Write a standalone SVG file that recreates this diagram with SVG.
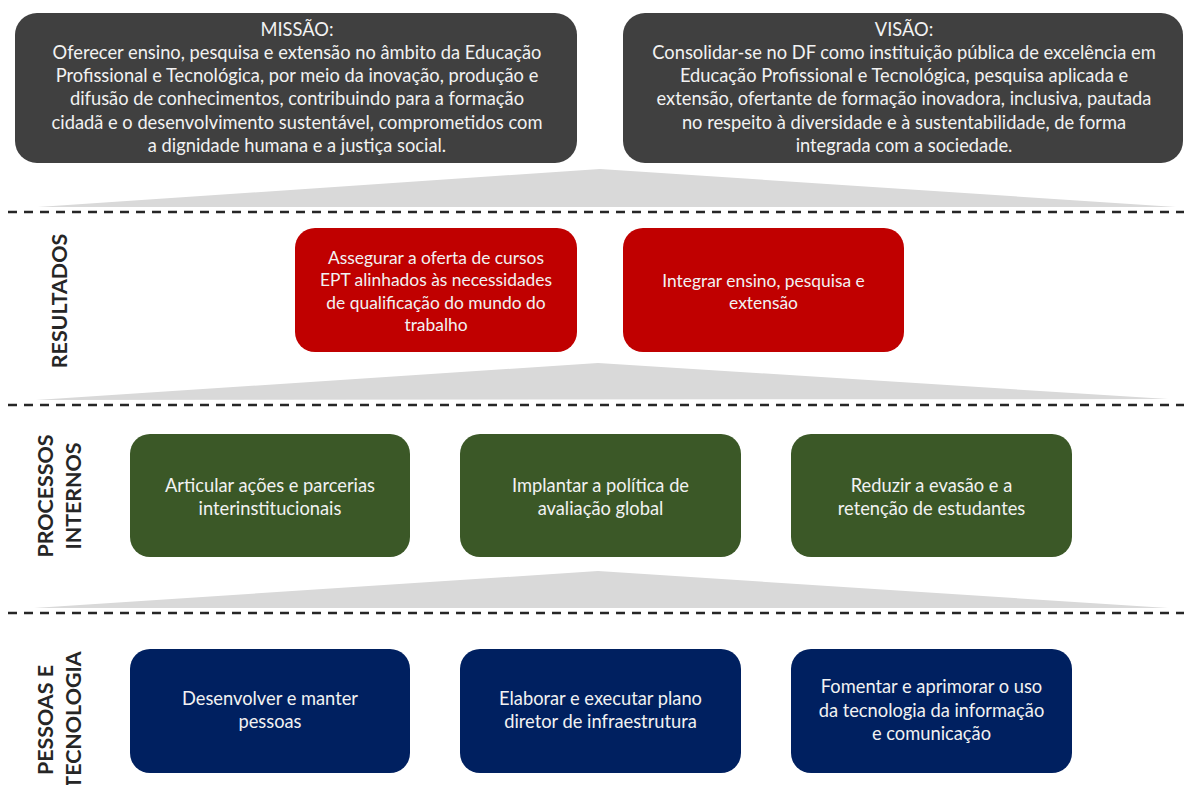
<svg xmlns="http://www.w3.org/2000/svg" width="1184" height="785" viewBox="0 0 1184 785">
<style>
.box-dark{fill:#404040}
.box-red{fill:#C00000}
.box-green{fill:#3B5827}
.box-blue{fill:#002060}
.t{font-family:Lato,"Liberation Sans",sans-serif;font-size:18.3px;fill:#F2F2F2;text-anchor:middle}
.tr{font-size:17.4px}
.side{font-family:Lato,"Liberation Sans",sans-serif;font-size:21.4px;font-weight:bold;fill:#262626;text-anchor:middle}
.tri{fill:#D9D9D9}
.dash{stroke:#262626;stroke-width:2.3;stroke-dasharray:9 7;fill:none}
</style>
<rect width="1184" height="785" fill="#FFFFFF"/>
<g id="layers">
  <polygon class="tri" points="38,207 600,169 1176,207"/>
  <polygon class="tri" points="36,400 598,363 1168,399"/>
  <polygon class="tri" points="34,608 598,571 1168,608"/>
  <line class="dash" x1="8" y1="212" x2="1184" y2="212"/>
  <line class="dash" x1="8" y1="405" x2="1184" y2="405"/>
  <line class="dash" x1="8" y1="613" x2="1184" y2="613"/>
</g>
<g id="missao">
  <rect class="box-dark" x="15" y="13" width="562" height="150" rx="22"/>
  <text class="t" x="297" y="35.5">MISSÃO:</text>
  <text class="t" x="297" y="58.8">Oferecer ensino, pesquisa e extensão no âmbito da Educação</text>
  <text class="t" x="297" y="82.1">Profissional e Tecnológica, por meio da inovação, produção e</text>
  <text class="t" x="297" y="105.4">difusão de conhecimentos, contribuindo para a formação</text>
  <text class="t" x="297" y="128.7">cidadã e o desenvolvimento sustentável, comprometidos com</text>
  <text class="t" x="297" y="152">a dignidade humana e a justiça social.</text>
</g>
<g id="visao">
  <rect class="box-dark" x="623" y="13" width="560" height="150" rx="22"/>
  <text class="t" x="904" y="35.5">VISÃO:</text>
  <text class="t" x="904" y="58.8">Consolidar-se no DF como instituição pública de excelência em</text>
  <text class="t" x="904" y="82.1">Educação Profissional e Tecnológica, pesquisa aplicada e</text>
  <text class="t" x="904" y="105.4">extensão, ofertante de formação inovadora, inclusiva, pautada</text>
  <text class="t" x="904" y="128.7">no respeito à diversidade e à sustentabilidade, de forma</text>
  <text class="t" x="904" y="152">integrada com a sociedade.</text>
</g>
<g id="label-resultados">
  <text class="side" transform="translate(67,301) rotate(-90)">RESULTADOS</text>
</g>
<g id="label-processos">
  <text class="side" transform="translate(53,496) rotate(-90)">PROCESSOS</text>
  <text class="side" transform="translate(81,496) rotate(-90)">INTERNOS</text>
</g>
<g id="label-pessoas">
  <text class="side" transform="translate(53,720) rotate(-90)">PESSOAS E</text>
  <text class="side" transform="translate(81,720) rotate(-90)">TECNOLOGIA</text>
</g>
<g id="r1">
  <rect class="box-red" x="295" y="228" width="282" height="124" rx="20"/>
  <text class="t tr" x="436" y="264">Assegurar a oferta de cursos</text>
  <text class="t tr" x="436" y="286.3">EPT alinhados às necessidades</text>
  <text class="t tr" x="436" y="308.6">de qualificação do mundo  do</text>
  <text class="t tr" x="436" y="331">trabalho</text>
</g>
<g id="r2">
  <rect class="box-red" x="623" y="228" width="281" height="124" rx="20"/>
  <text class="t tr" x="763.5" y="287">Integrar ensino, pesquisa e</text>
  <text class="t tr" x="763.5" y="309">extensão</text>
</g>
<g id="p1">
  <rect class="box-green" x="130" y="434" width="280" height="123" rx="20"/>
  <text class="t" x="270" y="492">Articular ações e parcerias</text>
  <text class="t" x="270" y="515">interinstitucionais</text>
</g>
<g id="p2">
  <rect class="box-green" x="460" y="434" width="281" height="123" rx="20"/>
  <text class="t" x="600.5" y="492">Implantar a política de</text>
  <text class="t" x="600.5" y="515">avaliação global</text>
</g>
<g id="p3">
  <rect class="box-green" x="791" y="434" width="281" height="123" rx="20"/>
  <text class="t" x="931.5" y="492">Reduzir a evasão e a</text>
  <text class="t" x="931.5" y="515">retenção de estudantes</text>
</g>
<g id="t1">
  <rect class="box-blue" x="130" y="649" width="280" height="124" rx="20"/>
  <text class="t" x="270" y="705">Desenvolver e manter</text>
  <text class="t" x="270" y="728">pessoas</text>
</g>
<g id="t2">
  <rect class="box-blue" x="460" y="649" width="281" height="124" rx="20"/>
  <text class="t" x="600.5" y="705">Elaborar e executar plano</text>
  <text class="t" x="600.5" y="728">diretor de infraestrutura</text>
</g>
<g id="t3">
  <rect class="box-blue" x="791" y="649" width="281" height="124" rx="20"/>
  <text class="t" x="931.5" y="693">Fomentar e aprimorar o uso</text>
  <text class="t" x="931.5" y="716.5">da tecnologia da informação</text>
  <text class="t" x="931.5" y="740">e comunicação</text>
</g>
</svg>
